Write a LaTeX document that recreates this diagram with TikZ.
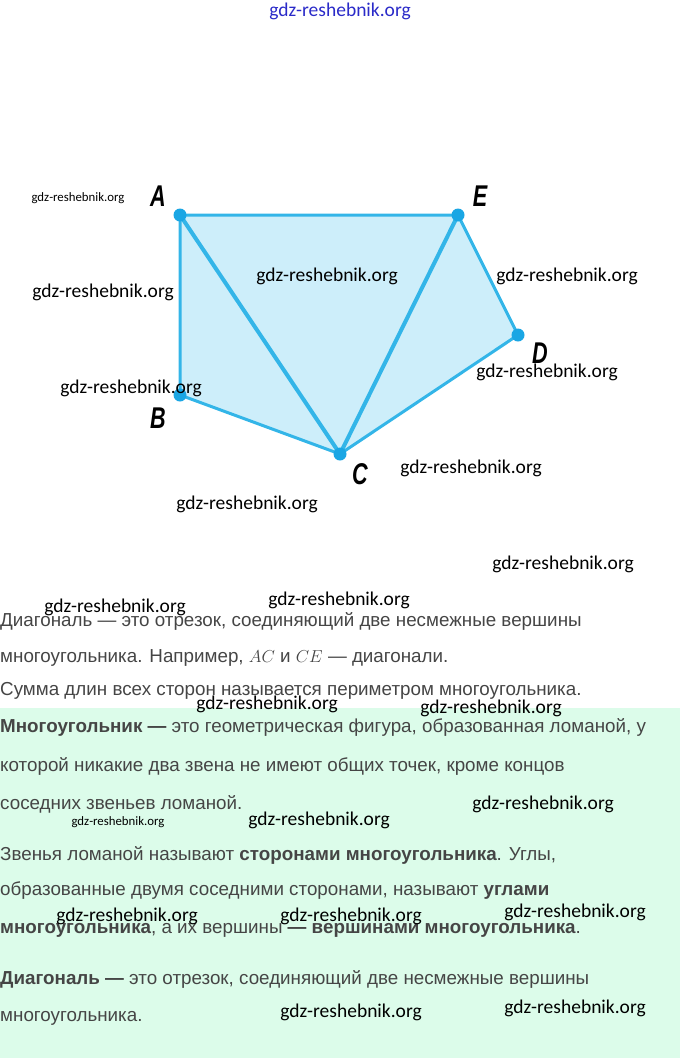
\documentclass[tikz,border=0pt]{standalone}
\usepackage{fontspec}
\setmainfont{Liberation Sans}
\newfontfamily\wmfont{Carlito}
\usetikzlibrary{positioning}

\definecolor{sidecol}{HTML}{33B5E8}
\definecolor{dotcol}{HTML}{1AA6E4}
\definecolor{facecol}{HTML}{CDEEFA}
\definecolor{notecol}{HTML}{DCFCEA}
\definecolor{textcol}{HTML}{454545}
\definecolor{topcol}{HTML}{2A2AC8}

\tikzset{
  side/.style={draw=sidecol, line width=3pt, line join=round},
  diag/.style={draw=sidecol, line width=4pt, line cap=round},
  dot/.style={circle, fill=dotcol, minimum size=13pt, inner sep=0pt},
  vlabel/.style={font=\fontsize{30}{30}\selectfont\bfseries\itshape, text=black, inner sep=0pt},
  wm/.style={font=\wmfont\fontsize{19.5}{19.5}\selectfont, text=black, inner sep=0pt},
  wmsmall/.style={font=\wmfont\fontsize{12.8}{12.8}\selectfont, text=black, inner sep=0pt},
  line/.style={anchor=west, font=\fontsize{18.8}{18.8}\selectfont, text=textcol, inner sep=0pt},
}

\begin{document}
\begin{tikzpicture}[x=1pt, y=-1pt]

        \useasboundingbox (0,0) rectangle (680,1058);
        \fill[notecol] (0,708) rectangle (680,1058);

        % vertices
        \coordinate (A) at (180,215);
        \coordinate (E) at (458,215);
        \coordinate (D) at (518,335);
        \coordinate (C) at (340,454);
        \coordinate (B) at (180,395);

        % polygon
        \fill[facecol] (A) -- (E) -- (D) -- (C) -- (B) -- cycle;
        \draw[side] (A) -- (E) -- (D) -- (C) -- (B) -- cycle;

        % diagonals AC and CE
        \draw[diag] (A) -- (C);
        \draw[diag] (C) -- (E);

        % dots
        \node[dot] (dA) at (A) {};
        \node[dot] (dE) at (E) {};
        \node[dot] (dD) at (D) {};
        \node[dot] (dC) at (C) {};
        \node[dot] (dB) at (B) {};

        % vertex names
        \node[vlabel] (lA) at (158,196) {\scalebox{0.72}[1]{A}};
        \node[vlabel] (lE) at (480,196) {\scalebox{0.72}[1]{E}};
        \node[vlabel] (lD) at (540,353) {\scalebox{0.72}[1]{D}};
        \node[vlabel] (lC) at (360,474) {\scalebox{0.72}[1]{C}};
        \node[vlabel] (lB) at (158,418) {\scalebox{0.72}[1]{B}};

        % text lines
        \node[line] (t1) at (0,621) {Диагональ — это отрезок, соединяющий две несмежные вершины};
        \node[line] (t2) at (0,658) {многоугольника. Например, $AC$ и $CE$ — диагонали.};
        \node[line] (t3) at (0,691) {Сумма длин всех сторон называется периметром многоугольника.};
        \node[line] (t4) at (0,727) {\textbf{Многоугольник —} это геометрическая фигура, образованная ломаной, у};
        \node[line] (t5) at (0,766) {которой никакие два звена не имеют общих точек, кроме концов};
        \node[line] (t6) at (0,804) {соседних звеньев ломаной.};
        \node[line] (t7) at (0,855) {Звенья ломаной называют \textbf{сторонами многоугольника}. Углы,};
        \node[line] (t8) at (0,891) {образованные двумя соседними сторонами, называют \textbf{углами}};
        \node[line] (t9) at (0,930) {\textbf{многоугольника}, а их вершины \textbf{— вершинами многоугольника}.};
        \node[line] (t10) at (0,979) {\textbf{Диагональ —} это отрезок, соединяющий две несмежные вершины};
        \node[line] (t11) at (0,1018) {многоугольника.};

        % watermarks
        \node[wm, text=topcol] (w1) at (340,11) {gdz-reshebnik.org};
        \node[wmsmall] (w2) at (78,198) {gdz-reshebnik.org};
        \node[wm] (w3) at (103,292) {gdz-reshebnik.org};
        \node[wm] (w4) at (327,276) {gdz-reshebnik.org};
        \node[wm] (w5) at (567,276) {gdz-reshebnik.org};
        \node[wm] (w6) at (131,388) {gdz-reshebnik.org};
        \node[wm] (w7) at (547,372) {gdz-reshebnik.org};
        \node[wm] (w8) at (471,468) {gdz-reshebnik.org};
        \node[wm] (w9) at (247,504) {gdz-reshebnik.org};
        \node[wm] (w10) at (563,564) {gdz-reshebnik.org};
        \node[wm] (w11) at (115,607) {gdz-reshebnik.org};
        \node[wm] (w12) at (339,600) {gdz-reshebnik.org};
        \node[wm] (w13) at (267,704) {gdz-reshebnik.org};
        \node[wm] (w14) at (491,708) {gdz-reshebnik.org};
        \node[wm] (w15) at (543,804) {gdz-reshebnik.org};
        \node[wmsmall] (w16) at (118,822) {gdz-reshebnik.org};
        \node[wm] (w17) at (319,820) {gdz-reshebnik.org};
        \node[wm] (w18) at (127,916) {gdz-reshebnik.org};
        \node[wm] (w19) at (351,916) {gdz-reshebnik.org};
        \node[wm] (w20) at (575,912) {gdz-reshebnik.org};
        \node[wm] (w21) at (351,1012) {gdz-reshebnik.org};
        \node[wm] (w22) at (575,1008) {gdz-reshebnik.org};

        \end{tikzpicture}
\end{document}
